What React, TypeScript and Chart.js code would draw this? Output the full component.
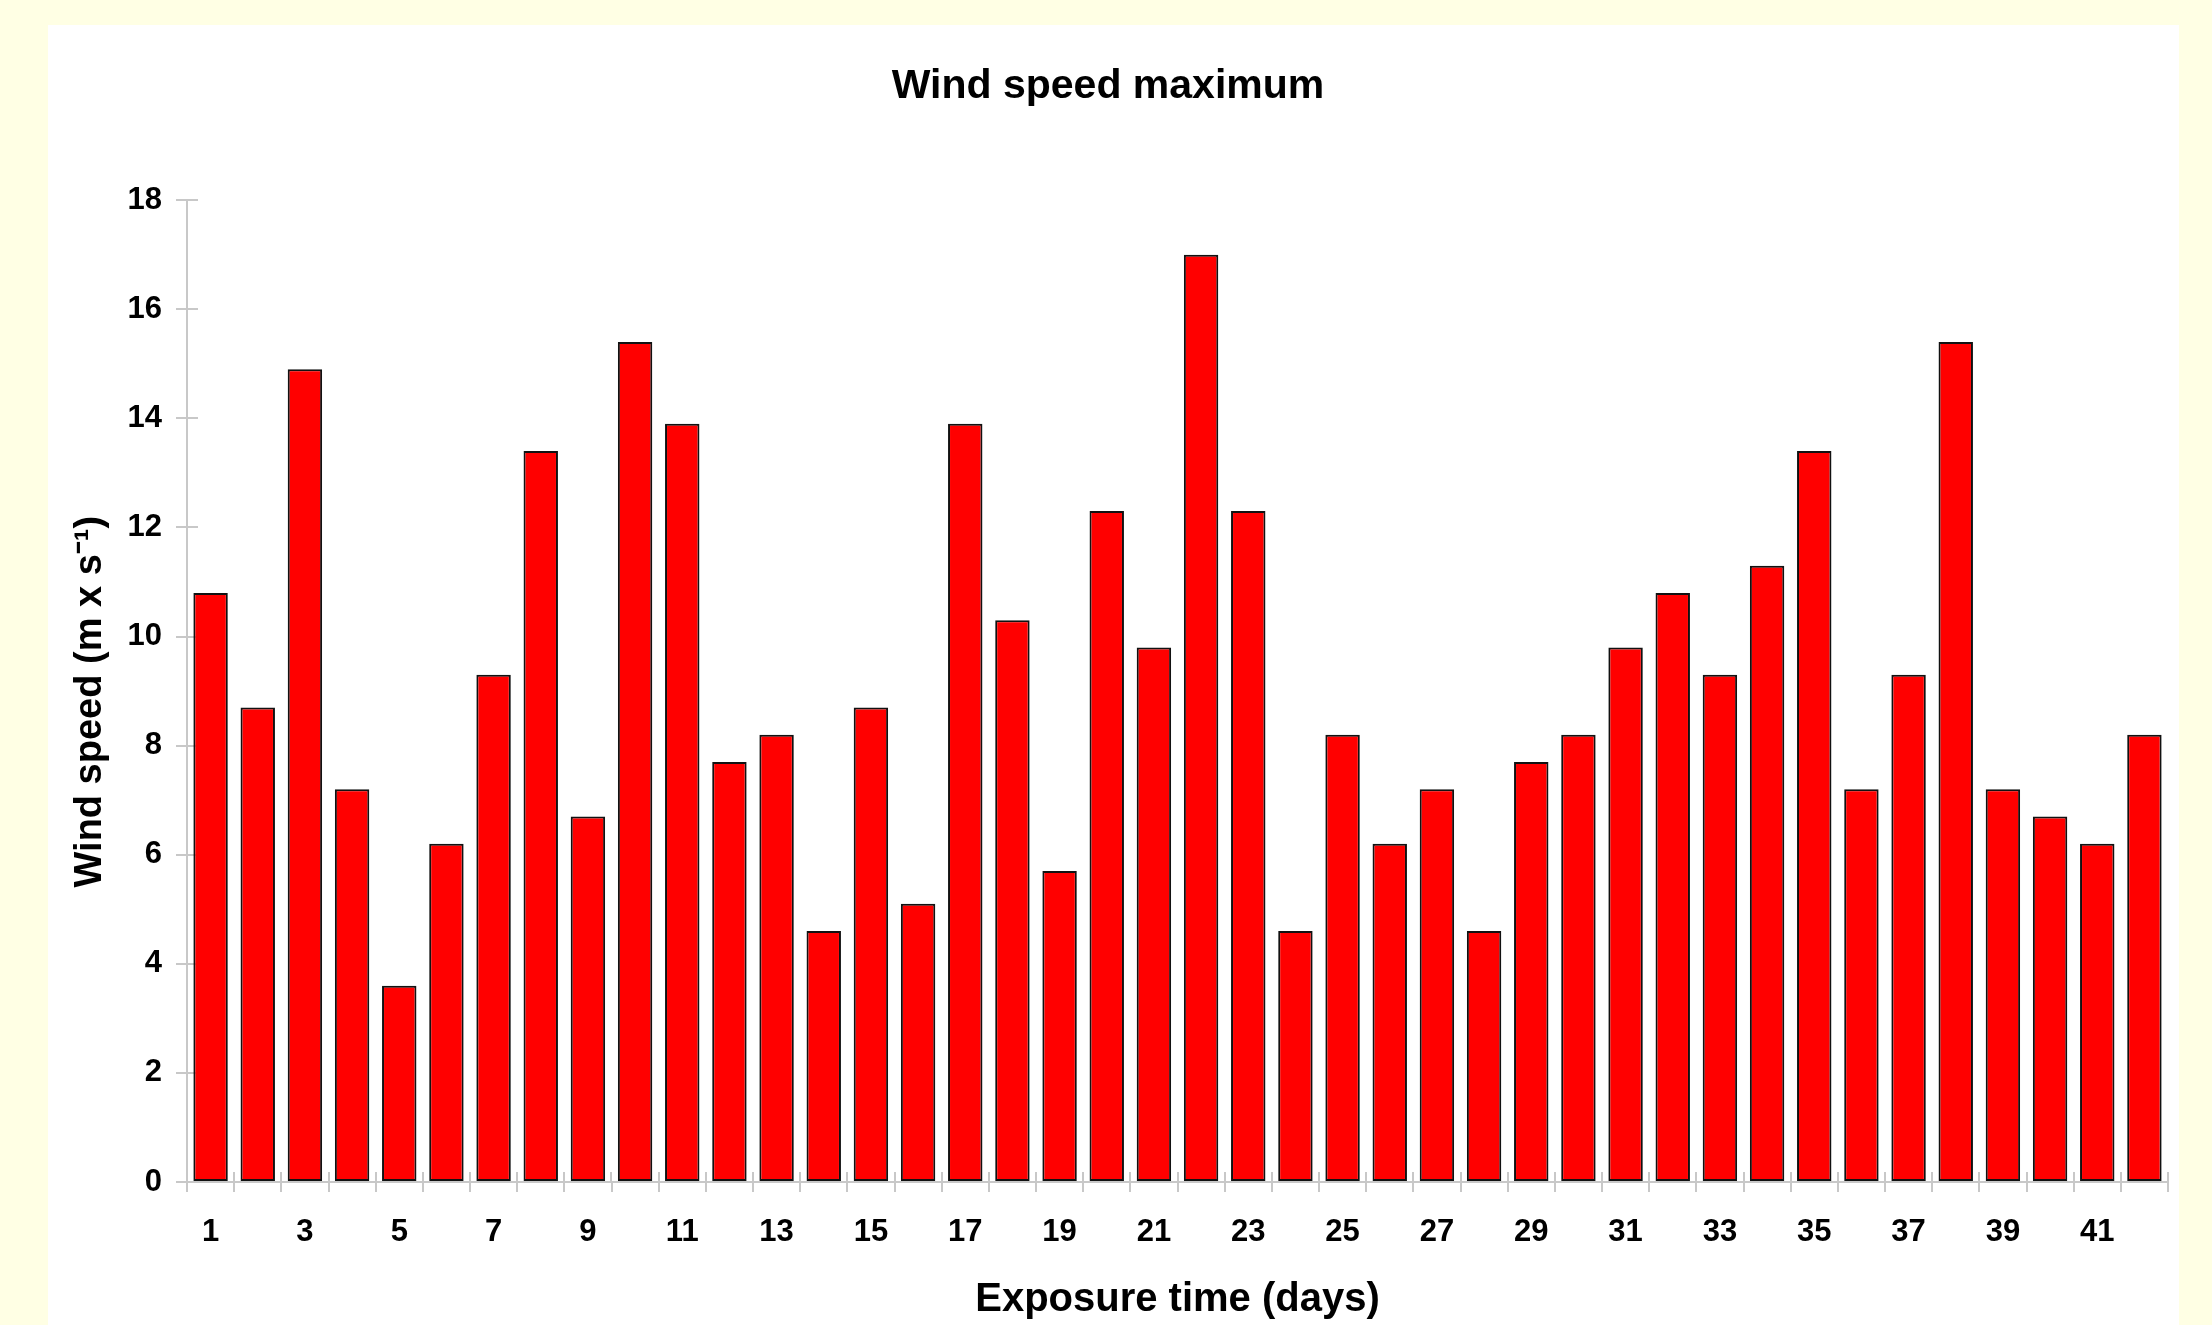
import React, { useEffect, useRef } from "react";
import { Chart, registerables } from "chart.js";

Chart.register(...registerables);

const days: string[] = [
  "1", "2", "3", "4", "5", "6", "7", "8", "9", "10",
  "11", "12", "13", "14", "15", "16", "17", "18", "19", "20",
  "21", "22", "23", "24", "25", "26", "27", "28", "29", "30",
  "31", "32", "33", "34", "35", "36", "37", "38", "39", "40",
  "41", "42",
];

const windSpeedMax: number[] = [
  10.8, 8.7, 14.9, 7.2, 3.6, 6.2, 9.3, 13.4, 6.7, 15.4,
  13.9, 7.7, 8.2, 4.6, 8.7, 5.1, 13.9, 10.3, 5.7, 12.3,
  9.8, 17.0, 12.3, 4.6, 8.2, 6.2, 7.2, 4.6, 7.7, 8.2,
  9.8, 10.8, 9.3, 11.3, 13.4, 7.2, 9.3, 15.4, 7.2, 6.7,
  6.2, 8.2,
];

const yTicks: number[] = [0, 2, 4, 6, 8, 10, 12, 14, 16, 18];

const chartTitle = "Wind speed maximum";
const xTitle = "Exposure time (days)";
const yTitle = "Wind speed (m x s\u207B\u00B9)  ";

const FONT = "'Liberation Sans', Arial, Helvetica, sans-serif";
const AXIS_GRAY = "#c8c8c8";

const innerTicks = {
  id: "innerTicks",
  beforeDatasetsDraw(chart: any) {
    const { ctx, chartArea } = chart;
    const x = chart.scales.x;
    const y = chart.scales.y;
    ctx.save();
    ctx.strokeStyle = AXIS_GRAY;
    ctx.lineWidth = 2;
    ctx.beginPath();
    for (const t of y.ticks) {
      const py = Math.round(y.getPixelForValue(t.value));
      ctx.moveTo(chartArea.left, py);
      ctx.lineTo(chartArea.left + 11, py);
    }
    const n = x.ticks.length;
    const half = (x.getPixelForValue(1) - x.getPixelForValue(0)) / 2;
    for (let i = 0; i <= n; i++) {
      const px = Math.round(x.getPixelForValue(i) - half);
      ctx.moveTo(px, chartArea.bottom);
      ctx.lineTo(px, chartArea.bottom - 10);
    }
    ctx.stroke();
    ctx.restore();
  },
};

export default function App() {
  const ref = useRef<HTMLCanvasElement | null>(null);

  useEffect(() => {
    if (!ref.current) return;
    Chart.defaults.color = "#000";
    const chart = new Chart(ref.current, {
      type: "bar",
      data: {
        labels: days,
        datasets: [
          {
            data: windSpeedMax,
            backgroundColor: "#ff0000",
            borderColor: "#111111",
            borderWidth: 2,
            borderSkipped: false,
            barPercentage: 0.73,
            categoryPercentage: 1.0,
          },
        ],
      },
      options: {
        responsive: false,
        animation: false,
        devicePixelRatio: 1,
        layout: { padding: { left: 0, right: 11, top: 0, bottom: 0 } },
        plugins: {
          legend: { display: false },
          tooltip: { enabled: false },
          title: {
            display: true,
            text: chartTitle,
            color: "#000",
            font: { family: FONT, size: 41, weight: "bold", lineHeight: 1.2 },
            padding: { top: 37, bottom: 89 },
          },
        },
        scales: {
          x: {
            offset: true,
            grid: {
              offset: true,
              drawOnChartArea: false,
              drawTicks: true,
              tickLength: 10,
              color: AXIS_GRAY,
              lineWidth: 2,
            },
            border: { display: true, color: AXIS_GRAY, width: 2 },
            ticks: {
              autoSkip: false,
              maxRotation: 0,
              minRotation: 0,
              padding: 22,
              color: "#000",
              font: { family: FONT, size: 31, weight: "bold", lineHeight: 1.2 },
              callback: (_v: any, i: number) => (i % 2 === 0 ? days[i] : ""),
            },
            title: {
              display: true,
              text: xTitle,
              color: "#000",
              font: { family: FONT, size: 40, weight: "bold", lineHeight: 1.2 },
              padding: { top: 0, bottom: 1 },
            },
            afterFit: (s: any) => {
              s.height = 143;
            },
          },
          y: {
            min: 0,
            max: 18,
            afterBuildTicks: (s: any) => {
              s.ticks = yTicks.map((v) => ({ value: v }));
            },
            grid: {
              drawOnChartArea: false,
              drawTicks: true,
              tickLength: 11,
              color: AXIS_GRAY,
              lineWidth: 2,
            },
            border: { display: true, color: AXIS_GRAY, width: 2 },
            ticks: {
              padding: 14,
              color: "#000",
              font: { family: FONT, size: 31, weight: "bold", lineHeight: 1.2 },
            },
            title: {
              display: true,
              text: yTitle,
              color: "#000",
              font: { family: FONT, size: 38, weight: "bold", lineHeight: 1.2 },
              padding: { top: 20, bottom: 0 },
            },
            afterFit: (s: any) => {
              s.width = 139;
            },
          },
        },
      },
      plugins: [innerTicks],
    });
    return () => chart.destroy();
  }, []);

  return (
    <div
      style={{
        position: "fixed",
        left: 0,
        top: 0,
        width: 2212,
        height: 1325,
        background: "#ffffe4",
        overflow: "hidden",
      }}
    >
      <div
        style={{
          position: "absolute",
          left: 48,
          top: 25,
          width: 2131,
          height: 1300,
          background: "#ffffff",
        }}
      />
      <canvas
        ref={ref}
        width={2131}
        height={1300}
        style={{ position: "absolute", left: 48, top: 25, width: 2131, height: 1300 }}
      />
    </div>
  );
}
